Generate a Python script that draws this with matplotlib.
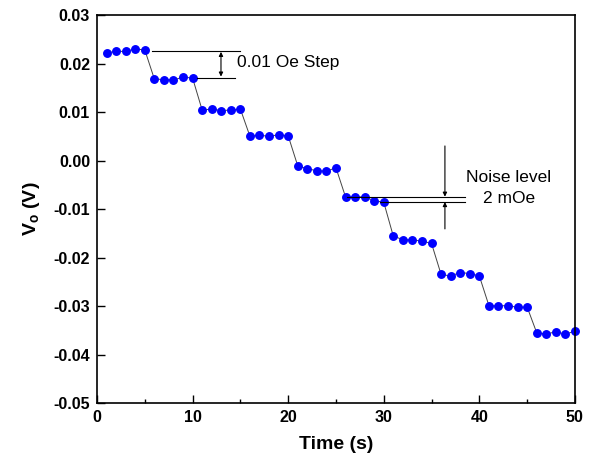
import numpy as np
import matplotlib.pyplot as plt
from matplotlib.ticker import MultipleLocator, FuncFormatter

plt.rcParams['font.family'] = ['Liberation Sans', 'DejaVu Sans']
plt.rcParams['mathtext.fontset'] = 'custom'
plt.rcParams['mathtext.rm'] = 'Liberation Sans'
plt.rcParams['mathtext.bf'] = 'Liberation Sans:bold'

# time axis, one sample per second
t = np.arange(1, 51)

# output voltage (10 steps of 5 points)
v_out = [
    0.0222, 0.0225, 0.0225, 0.0230, 0.0228,
    0.0168, 0.0167, 0.0166, 0.0172, 0.0170,
    0.0104, 0.0106, 0.0103, 0.0104, 0.0106,
    0.0050, 0.0052, 0.0050, 0.0053, 0.0051,
    -0.0011, -0.0017, -0.0021, -0.0022, -0.0015,
    -0.0075, -0.0075, -0.0075, -0.0083, -0.0086,
    -0.0156, -0.0163, -0.0164, -0.0166, -0.0171,
    -0.0235, -0.0238, -0.0231, -0.0233, -0.0238,
    -0.0299, -0.0300, -0.0299, -0.0303, -0.0302,
    -0.0355, -0.0358, -0.0353, -0.0358, -0.0352,
]

fig = plt.figure(figsize=(5.97, 4.69), dpi=100)
ax = fig.add_axes([0.1625, 0.1407, 0.8005, 0.8273])

ax.plot(t, v_out, '-', color='#444444', lw=0.7, zorder=1)
ax.plot(t, v_out, 'o', color='#0000ff', ms=5.4, mec='#0000ff', zorder=2, clip_on=False)

ax.set_xlim(0, 50)
ax.set_ylim(-0.05, 0.03)
ax.xaxis.set_major_locator(MultipleLocator(10))
ax.xaxis.set_minor_locator(MultipleLocator(5))
ax.yaxis.set_major_locator(MultipleLocator(0.01))
ax.yaxis.set_major_formatter(FuncFormatter(lambda v, p: '%.2f' % (round(v, 4) + 0.0)))
ax.tick_params(which='major', direction='in', length=6, width=1, labelsize=11.5, pad=5)
ax.tick_params(which='minor', direction='in', length=3, width=1)
ax.tick_params(axis='y', which='minor', left=False)
for lab in ax.get_xticklabels() + ax.get_yticklabels():
    lab.set_fontweight('bold')
for s in ax.spines.values():
    s.set_linewidth(1.2)

ax.set_xlabel('Time (s)', fontsize=14, fontweight='bold', labelpad=8)
ax.set_ylabel(r'V$_\mathbf{o}$ (V)', fontsize=14, fontweight='bold', labelpad=8)

# step annotation
ax.plot([5.75, 14.96], [0.02264, 0.02264], color='black', lw=0.8)
ax.plot([10.46, 14.4], [0.01707, 0.01707], color='black', lw=0.8)
ax.annotate('', xy=(12.97, 0.02240), xytext=(12.97, 0.01730),
            arrowprops=dict(arrowstyle='<|-|>', color='black', lw=0.8,
                            mutation_scale=6, shrinkA=0, shrinkB=0))
ax.text(14.6, 0.0203, '0.01 Oe Step', fontsize=12.5, va='center', ha='left')

# noise level annotation
ax.plot([26.15, 38.5], [-0.00746, -0.00746], color='black', lw=0.8)
ax.plot([29.6, 38.5], [-0.00856, -0.00856], color='black', lw=0.8)
ax.annotate('', xy=(36.4, -0.00746), xytext=(36.4, 0.0030),
            arrowprops=dict(arrowstyle='-|>', color='black', lw=0.8,
                            mutation_scale=6, shrinkA=0, shrinkB=0))
ax.annotate('', xy=(36.4, -0.00856), xytext=(36.4, -0.0141),
            arrowprops=dict(arrowstyle='-|>', color='black', lw=0.8,
                            mutation_scale=6, shrinkA=0, shrinkB=0))
ax.text(43.1, -0.0036, 'Noise level', fontsize=12.5, va='center', ha='center')
ax.text(43.1, -0.0078, '2 mOe', fontsize=12.5, va='center', ha='center')

fig.savefig('out.png', dpi=100)
